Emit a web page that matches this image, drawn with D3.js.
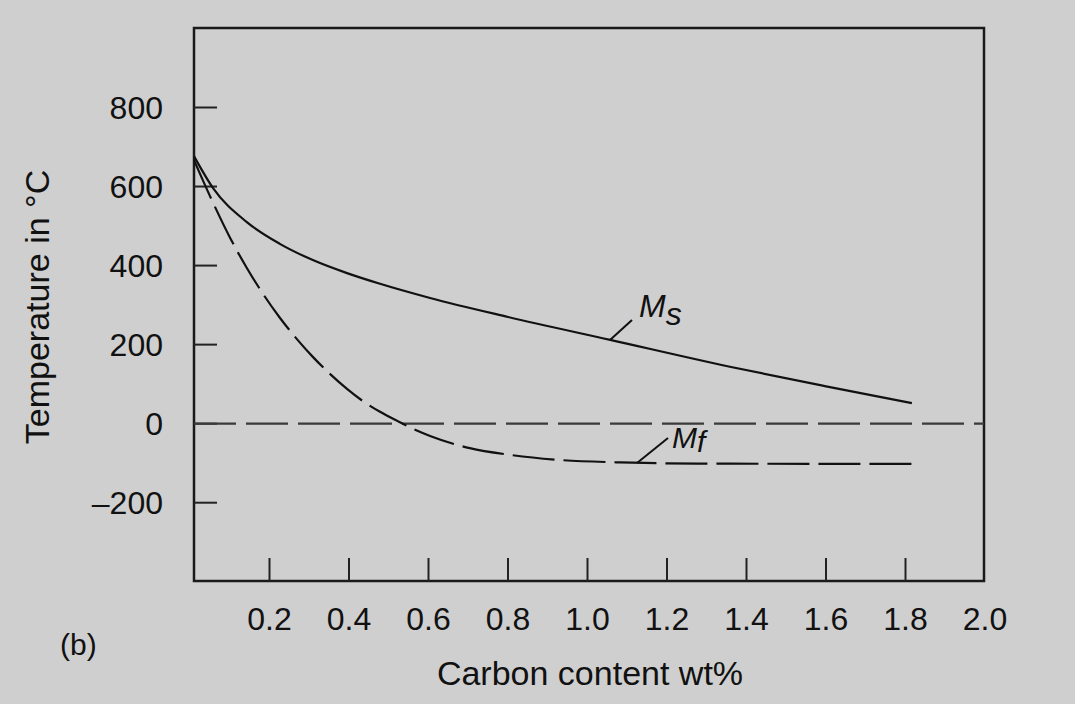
<!DOCTYPE html>
<html>
<head>
<meta charset="utf-8">
<script src="https://cdn.jsdelivr.net/npm/d3@7/dist/d3.min.js"></script>
<style>
  html, body { margin: 0; padding: 0; background: #cfcfcf; }
  svg { display: block; }
  text { font-family: "Liberation Sans", Arial, Helvetica, sans-serif; fill: #111; }
</style>
</head>
<body>
<svg id="chart" width="1075" height="704"></svg>
<script>
// ---- data ----
const msCarbon = [0.01, 0.058, 0.143, 0.226, 0.309, 0.395, 0.478, 0.604, 0.80, 1.057, 1.358, 1.597, 1.816];
const msTemp   = [677, 596, 510, 455, 414, 381, 354, 318, 270, 212, 144, 95, 52];

const mfCarbon = [0.01, 0.058, 0.101, 0.143, 0.184, 0.226, 0.269, 0.309, 0.352, 0.395, 0.435, 0.478, 0.521, 0.561, 0.604, 0.704, 0.805, 0.931, 1.082, 1.283, 1.831];
const mfTemp   = [667, 559, 470, 394, 328, 268, 214, 169, 126, 88, 57, 30, 7, -13, -31, -62, -79, -92, -98, -101, -102];

const xTickValues = [0.2, 0.4, 0.6, 0.8, 1.0, 1.2, 1.4, 1.6, 1.8];
const xTickLabels = ["0.2", "0.4", "0.6", "0.8", "1.0", "1.2", "1.4", "1.6", "1.8", "2.0"];
const xLabelValues = [0.2, 0.4, 0.6, 0.8, 1.0, 1.2, 1.4, 1.6, 1.8, 2.0];
const yTickValues = [-200, 0, 200, 400, 600, 800];
const yTickLabels = ["\u2013200", "0", "200", "400", "600", "800"];

// ---- layout ----
const svg = d3.select("#chart");
const frame = { left: 194, right: 984, top: 28, bottom: 581 };
const x = d3.scaleLinear().domain([0, 2]).range([190, 985]);
const y = d3.scaleLinear().domain([-200, 800]).range([502.7, 107.5]);

svg.append("rect").attr("width", 1075).attr("height", 704).attr("fill", "#cfcfcf");

// frame
svg.append("rect")
  .attr("x", frame.left).attr("y", frame.top)
  .attr("width", frame.right - frame.left).attr("height", frame.bottom - frame.top)
  .attr("fill", "none").attr("stroke", "#1a1a1a").attr("stroke-width", 2.5);

// y ticks (inward)
svg.selectAll(".ytick").data(yTickValues).enter().append("line")
  .attr("x1", frame.left).attr("x2", frame.left + 23)
  .attr("y1", d => y(d)).attr("y2", d => y(d))
  .attr("stroke", "#222").attr("stroke-width", 2);
svg.selectAll(".ylab").data(yTickValues).enter().append("text")
  .attr("x", 163).attr("y", d => y(d))
  .attr("dy", "0.36em")
  .attr("text-anchor", "end")
  .attr("font-size", 32)
  .text((d, i) => yTickLabels[i]);

// x ticks (inward)
svg.selectAll(".xtick").data(xTickValues).enter().append("line")
  .attr("x1", d => x(d)).attr("x2", d => x(d))
  .attr("y1", frame.bottom).attr("y2", frame.bottom - 23)
  .attr("stroke", "#222").attr("stroke-width", 2);
svg.selectAll(".xlab").data(xLabelValues).enter().append("text")
  .attr("x", d => x(d)).attr("y", 630)
  .attr("text-anchor", "middle")
  .attr("font-size", 32)
  .text((d, i) => xTickLabels[i]);

// zero reference line
svg.append("line")
  .attr("x1", frame.left).attr("x2", frame.right)
  .attr("y1", y(0)).attr("y2", y(0))
  .attr("stroke", "#3a3a3a").attr("stroke-width", 2.2)
  .attr("stroke-dasharray", "42,10");

const line = d3.line().x(d => x(d[0])).y(d => y(d[1])).curve(d3.curveMonotoneX);

// Ms
svg.append("path")
  .datum(msCarbon.map((c, i) => [c, msTemp[i]]))
  .attr("d", line).attr("fill", "none")
  .attr("stroke", "#111").attr("stroke-width", 2.2);

// Mf
svg.append("path")
  .datum(mfCarbon.map((c, i) => [c, mfTemp[i]]))
  .attr("d", line).attr("fill", "none")
  .attr("stroke", "#111").attr("stroke-width", 2.2)
  .attr("stroke-dasharray", "42,9");

// labels with leader lines
svg.append("line").attr("x1", 610).attr("y1", 340).attr("x2", 632).attr("y2", 320)
  .attr("stroke", "#111").attr("stroke-width", 2);
const ms = svg.append("text").attr("x", 639).attr("y", 317)
  .attr("font-size", 32).attr("font-style", "italic");
ms.append("tspan").text("M");
ms.append("tspan").attr("dy", 8).text("s");

svg.append("line").attr("x1", 637).attr("y1", 463).attr("x2", 668).attr("y2", 438)
  .attr("stroke", "#111").attr("stroke-width", 2);
const mf = svg.append("text").attr("x", 672).attr("y", 448)
  .attr("font-size", 30).attr("font-style", "italic");
mf.append("tspan").text("M");
mf.append("tspan").attr("dy", 4).text("f");

// axis titles
svg.append("text")
  .attr("x", 590).attr("y", 685)
  .attr("text-anchor", "middle")
  .attr("font-size", 34)
  .text("Carbon content wt%");

svg.append("text")
  .attr("transform", "translate(49,307) rotate(-90)")
  .attr("text-anchor", "middle")
  .attr("font-size", 34)
  .text("Temperature in \u00B0C");

svg.append("text")
  .attr("x", 60).attr("y", 655)
  .attr("font-size", 30)
  .text("(b)");
</script>
</body>
</html>
